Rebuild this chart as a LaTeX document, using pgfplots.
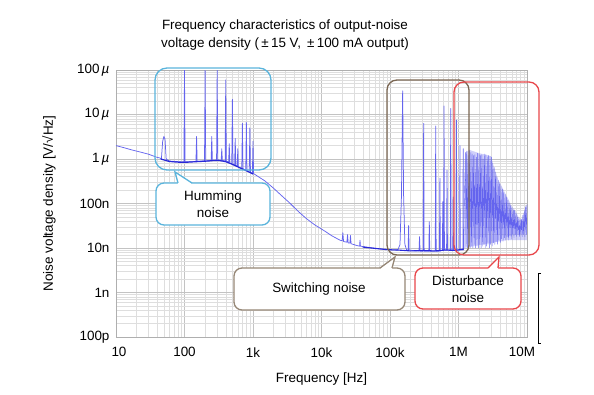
\documentclass[border=0pt]{standalone}
\usepackage{pgfplots}
\pgfplotsset{compat=1.18}
\usepackage{fontspec}
\setmainfont{Liberation Sans}
\definecolor{spk}{RGB}{100,100,238}
\definecolor{dk}{RGB}{40,40,215}
\definecolor{blu}{RGB}{90,180,220}
\definecolor{brn}{RGB}{122,102,82}
\definecolor{brnl}{RGB}{150,135,118}
\definecolor{rd}{RGB}{232,70,74}
\definecolor{majg}{RGB}{195,195,195}
\definecolor{ming}{RGB}{222,222,222}
\definecolor{frm}{RGB}{175,175,175}
\begin{document}
\begin{tikzpicture}
\path[use as bounding box] (-116bp,-58bp) rectangle (478bp,337bp);
\begin{axis}[
  at={(0,0)}, anchor=south west, scale only axis,
  width=411bp, height=267bp,
  xmode=log, ymode=log,
  xmin=10, xmax=1e7, ymin=1e-10, ymax=1e-4,
  grid=both,
  major grid style={majg, line width=0.6pt},
  minor grid style={ming, line width=0.45pt},
  axis line style={frm, line width=0.8pt},
  major tick length=0pt, minor tick length=0pt,
  xtick={10,100,1000,10000,100000,1000000,10000000},
  xticklabels={\hspace*{6bp}10,100,1k,10k,100k,1M,10M\hspace*{10bp}},
  ytick={1e-10,1e-9,1e-8,1e-7,1e-6,1e-5,1e-4},
  yticklabels={100p,1n,10n,100n,{1\,\itshape µ},{10\,\itshape µ},{100\,\itshape µ}},
  tick label style={font=\fontsize{13.5}{16}\selectfont},
  xticklabel style={yshift=-7bp},
  yticklabel style={xshift=-3bp},
  xlabel={Frequency [Hz]},
  ylabel={Noise voltage density [V/√Hz]},
  every axis x label/.style={at={(axis description cs:0.5,-0.157)}, anchor=center, font=\fontsize{13.5}{16}\selectfont},
  every axis y label/.style={at={(axis description cs:-0.163,0.5)}, anchor=center, rotate=90, font=\fontsize{13.5}{16}\selectfont},
]
% disturbance-region shading
\addplot[draw=none, fill=spk, fill opacity=0.3] coordinates {
(1.2e6,1e-8)(1.26e6,1.4e-6)(1.45e6,1.6e-6)(2.0e6,1.35e-6)(2.5e6,1.25e-6)(3.0e6,1.15e-6)
(3.3e6,0.65e-6)(3.8e6,0.34e-6)(4.3e6,0.24e-6)(4.8e6,0.17e-6)(5.4e6,0.12e-6)(6.0e6,8.5e-8)
(6.7e6,7e-8)(7.5e6,5e-8)(8.4e6,4.3e-8)(9.4e6,7.8e-8)(1e7,9.5e-8)(1e7,1.5e-8)(5e6,1.5e-8)(1.2e6,1e-8)} -- cycle;
% measured noise with spikes
\addplot[spk, line width=0.75pt, line join=round] coordinates {
(10,2.0e-6)(13,1.8e-6)(17,1.6e-6)(22,1.45e-6)(30,1.28e-6)(39,1.1e-6)(44,1.05e-6)
(46,1.0e-6)(48,2.5e-6)(50,3.2e-6)(52,2.8e-6)(54,1.0e-6)
(60,0.9e-6)(75,0.88e-6)(90,0.86e-6)
(98,0.86e-6)(100,1e-4)(102,0.86e-6)
(125,0.87e-6)
(147,0.88e-6)(150,3.2e-6)(153,0.88e-6)
(175,0.9e-6)
(196,0.9e-6)(200,1e-4)(204,0.9e-6)
(225,0.92e-6)
(245,0.93e-6)(250,3.2e-6)(255,0.93e-6)
(275,0.94e-6)
(294,0.95e-6)(300,1e-4)(306,0.95e-6)
(343,0.93e-6)(350,1.7e-6)(357,0.93e-6)
(392,0.9e-6)(400,6e-5)(408,0.9e-6)
(441,0.85e-6)(450,2.2e-6)(459,0.82e-6)
(490,0.78e-6)(500,2.2e-5)(510,0.77e-6)
(539,0.73e-6)(550,2.9e-6)(561,0.71e-6)
(588,0.68e-6)(600,1.7e-6)(612,0.66e-6)
(686,0.61e-6)(700,6.3e-6)(714,0.6e-6)
(784,0.56e-6)(800,6.7e-6)(816,0.55e-6)
(882,0.51e-6)(900,5.0e-6)(918,0.5e-6)
(980,0.48e-6)(1000,2.5e-6)(1020,0.47e-6)
(1200,0.4e-6)(1500,0.32e-6)(2000,0.22e-6)(2500,0.16e-6)(3500,0.1e-6)(4500,6.8e-8)
(6000,4.6e-8)(8000,3.3e-8)(10700,2.5e-8)(14000,1.9e-8)(18600,1.5e-8)
(20000,1.45e-8)(20500,2.2e-8)(21000,1.4e-8)(23500,1.35e-8)(24000,2.0e-8)(24500,1.3e-8)
(26000,1.3e-8)(26500,1.9e-8)(27000,1.25e-8)(32000,1.15e-8)(36000,1.1e-8)(36500,1.5e-8)(37000,1.1e-8)
(45000,1.05e-8)(57000,1.0e-8)(75000,9.5e-9)(90000,9.3e-9)(110000,9.0e-9)(130000,9.0e-9)
(140000,1.2e-8)(147000,1.5e-7)(153000,3.4e-5)(158000,1.5e-7)(165000,1.2e-8)(175000,9e-9)
(184000,9e-9)(187000,3.2e-8)(190000,9e-9)
(265000,8.5e-9)(270000,1.8e-8)(275000,8.5e-9)
(305000,8.5e-9)(310000,6.3e-6)(315000,8.5e-9)
(369000,8.5e-9)(375000,3.9e-8)(381000,8.5e-9)
(458000,8.5e-9)(465000,5.5e-6)(472000,8.5e-9)
(527000,8.5e-9)(535000,3.7e-7)(543000,8.5e-9)
(582000,9e-9)(590000,1.1e-7)(598000,9e-9)
(607000,9e-9)(615000,1.55e-5)(623000,9e-9)
(670000,9e-9)(680000,5.6e-7)(690000,9e-9)
(760000,9e-9)(770000,1.37e-5)(780000,9e-9)
(825000,9e-9)(835000,1.4e-7)(845000,9e-9)
(925000,9e-9)(935000,7.5e-6)(945000,9e-9)
(1040000,9e-9)(1050000,2e-6)(1060000,9e-9)
(1160000,9e-9)(1170000,1.7e-6)(1180000,9e-9)
};
% dense disturbance spikes
\addplot[spk, line width=0.4pt, line join=round] coordinates {
(1180000,9e-9)
(1.259e6,1.4e-6)(1.288e6,1.1e-8)(1.318e6,1.5e-6)(1.349e6,1.0e-8)(1.380e6,1.2e-6)(1.413e6,1.2e-8)
(1.445e6,1.6e-6)(1.479e6,1.0e-8)(1.514e6,1.4e-6)(1.549e6,1.1e-8)(1.585e6,1.3e-6)(1.622e6,1.0e-8)
(1.660e6,1.2e-6)(1.698e6,1.2e-8)(1.738e6,1.25e-6)(1.778e6,1.0e-8)(1.820e6,1.1e-6)(1.862e6,1.1e-8)
(1.905e6,1.35e-6)(1.950e6,1.0e-8)(1.995e6,1.3e-6)(2.042e6,1.2e-8)(2.089e6,1.2e-6)(2.138e6,1.0e-8)
(2.188e6,1.25e-6)(2.239e6,1.1e-8)(2.291e6,1.0e-6)(2.344e6,1.2e-8)(2.399e6,1.3e-6)(2.455e6,1.0e-8)
(2.512e6,1.25e-6)(2.570e6,1.1e-8)(2.630e6,1.1e-6)(2.692e6,1.2e-8)(2.754e6,1.2e-6)(2.818e6,1.0e-8)
(2.884e6,1.15e-6)(2.951e6,1.2e-8)(3.020e6,1.1e-6)(3.090e6,1.1e-8)(3.162e6,0.8e-6)(3.236e6,1.3e-8)
(3.311e6,0.65e-6)(3.388e6,1.2e-8)(3.467e6,0.5e-6)(3.548e6,1.4e-8)(3.631e6,0.4e-6)(3.715e6,1.2e-8)
(3.802e6,0.33e-6)(3.890e6,1.5e-8)(3.981e6,0.28e-6)(4.074e6,1.3e-8)(4.169e6,0.24e-6)(4.266e6,1.6e-8)
(4.365e6,0.21e-6)(4.467e6,1.4e-8)(4.571e6,0.18e-6)(4.677e6,1.7e-8)(4.786e6,0.16e-6)(4.898e6,1.5e-8)
(5.012e6,0.14e-6)(5.129e6,1.8e-8)(5.248e6,0.12e-6)(5.370e6,1.5e-8)(5.495e6,0.1e-6)(5.623e6,1.9e-8)
(5.754e6,9e-8)(5.888e6,1.6e-8)(6.026e6,8e-8)(6.166e6,2.0e-8)(6.310e6,7e-8)(6.457e6,1.7e-8)
(6.607e6,7e-8)(6.761e6,2.0e-8)(6.918e6,6e-8)(7.079e6,1.8e-8)(7.244e6,5e-8)(7.413e6,2.0e-8)
(7.586e6,4.5e-8)(7.762e6,1.8e-8)(7.943e6,4.2e-8)(8.128e6,2.0e-8)(8.318e6,4.5e-8)(8.511e6,1.8e-8)
(8.710e6,5.5e-8)(8.913e6,2.0e-8)(9.120e6,7e-8)(9.333e6,1.8e-8)(9.550e6,8.5e-8)(9.772e6,2.0e-8)(1e7,9.5e-8)
};
% dense floor (darker)
\addplot[dk, line width=1.2pt, line join=round] coordinates {
(45,1.0e-6)(60,0.88e-6)(80,0.85e-6)(100,0.84e-6)(130,0.86e-6)(170,0.88e-6)(220,0.9e-6)
(280,0.93e-6)(330,0.92e-6)(400,0.87e-6)(480,0.78e-6)(560,0.7e-6)(650,0.63e-6)(750,0.57e-6)
(850,0.52e-6)(1000,0.46e-6)};
\addplot[dk, line width=1.1pt, line join=round] coordinates {
(40000,1.05e-8)(60000,9.8e-9)(90000,9.2e-9)(130000,9.0e-9)(200000,8.6e-9)(300000,8.8e-9)
(450000,8.6e-9)(650000,9.0e-9)(900000,8.8e-9)(1200000,9.5e-9)};
\end{axis}
% title
\node[align=center, font=\fontsize{13.5}{18}\selectfont] at (169bp,302bp)
  {Frequency characteristics of output-noise\\voltage density (\,±\,15 V,\, ±\,100 mA output)};
% humming callout
\draw[blu, line width=1.3pt, rounded corners=12bp] (39bp,167bp) rectangle (155bp,269bp);
\draw[blu, line width=1.3pt, rounded corners=8bp, fill=white] (40bp,112bp) rectangle (154bp,154bp);
\fill[white] (62bp,153bp) -- (59bp,165bp) -- (76bp,153bp) -- cycle;
\draw[blu, line width=1.3pt] (62bp,154bp) -- (59bp,165bp) -- (76bp,154bp);
\node[align=center, font=\fontsize{13.5}{17}\selectfont] at (97bp,133bp) {Humming\\noise};
% switching callout
\draw[brn, line width=1.3pt, rounded corners=10bp] (271bp,82bp) rectangle (353bp,257bp);
\draw[brnl, line width=1.3pt, rounded corners=8bp, fill=white] (118bp,27bp) rectangle (289bp,69bp);
\fill[white] (264bp,68bp) -- (279bp,80bp) -- (276bp,68bp) -- cycle;
\draw[brnl, line width=1.3pt] (264bp,69bp) -- (279bp,80bp) -- (276bp,69bp);
\node[font=\fontsize{13.5}{17}\selectfont] at (203bp,48bp) {Switching noise};
% disturbance callout
\draw[rd, line width=1.3pt, rounded corners=10bp] (338bp,82bp) rectangle (423bp,255bp);
\draw[rd, line width=1.3pt, rounded corners=8bp, fill=white] (299bp,28bp) rectangle (405bp,69bp);
\fill[white] (372bp,68bp) -- (383bp,80bp) -- (382bp,68bp) -- cycle;
\draw[rd, line width=1.3pt] (372bp,69bp) -- (383bp,80bp) -- (382bp,69bp);
\node[align=center, font=\fontsize{13.5}{17}\selectfont] at (352bp,48bp) {Disturbance\\noise};
% bracket mark
\draw[black, line width=0.8pt] (425bp,64bp) -- (422bp,64bp) -- (422bp,-6bp) -- (425bp,-6bp);
\end{tikzpicture}
\end{document}
